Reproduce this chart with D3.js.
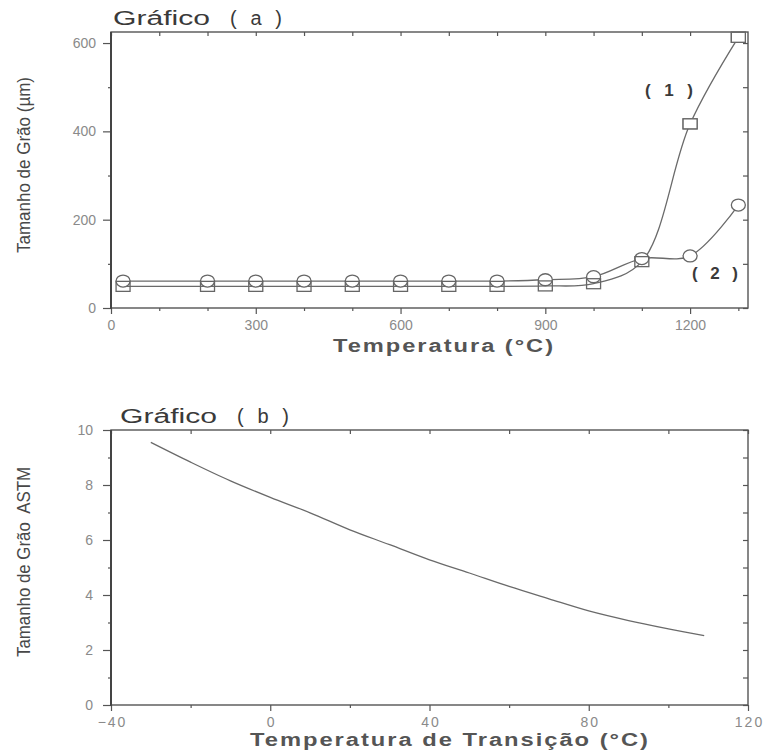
<!DOCTYPE html>
<html><head><meta charset="utf-8">
<script src="https://cdn.jsdelivr.net/npm/d3@7"></script>
<style>
body{margin:0;background:#fff}
text{font-family:"Liberation Sans",Arial,sans-serif}
</style>
</head><body><svg id="chart" width="764" height="752"></svg>
<script>
// Gráfico (a): tamanho de grão vs. temperatura
const tempA = [25, 200, 300, 400, 500, 600, 700, 800, 900, 1000, 1100, 1200, 1300];
const serie1 = [49, 49, 49, 49, 49, 49, 49, 49, 50, 55, 105, 417, 613];
const serie2 = [61, 61, 61, 61, 61, 61, 61, 61, 64, 71, 112, 118, 233];
const xTicksA = [0, 300, 600, 900, 1200];
const xMinorA = [100, 200, 400, 500, 700, 800, 1000, 1100, 1300];
const yTicksA = [0, 200, 400, 600];
const yMinorA = [100, 300, 500];

// Gráfico (b): tamanho de grão ASTM vs. temperatura de transição
const tempB = [-30, -20, -10, 0, 10, 20, 30, 40, 50, 60, 70, 80, 90, 100, 109];
const astm = [9.55, 8.83, 8.15, 7.55, 6.99, 6.37, 5.83, 5.28, 4.80, 4.31, 3.86, 3.42, 3.07, 2.77, 2.52];
const xTicksB = [-40, 0, 40, 80, 120];
const xMinorB = [-20, 20, 60, 100];
const yTicksB = [0, 2, 4, 6, 8, 10];
const yMinorB = [1, 3, 5, 7, 9];

const svg = d3.select("#chart");
const frameColor = "#555";
const tickText = "#8a8a8a";
const inkColor = "#3a3a3a";

function frame(x, y, o) {
  const g = svg.append("g");
  const [x0, x1] = x.range(), [y0, y1] = y.range();
  // minor ticks (all four sides)
  g.append("g").attr("transform", `translate(0,${y0})`)
    .call(d3.axisBottom(x).tickValues(o.xMinor).tickSize(3).tickFormat(""));
  g.append("g").attr("transform", `translate(${x0},0)`)
    .call(d3.axisLeft(y).tickValues(o.yMinor).tickSize(3).tickFormat(""));
  g.append("g").attr("transform", `translate(0,${y1})`)
    .call(d3.axisBottom(x).tickValues(o.xMinor.concat(o.xMajor)).tickSize(4).tickFormat(""));
  g.append("g").attr("transform", `translate(${x1},0)`)
    .call(d3.axisLeft(y).tickValues(o.yMinor.concat(o.yMajor)).tickSize(5).tickFormat(""));
  // major ticks with labels
  const xb = g.append("g").attr("transform", `translate(0,${y0})`)
    .call(d3.axisBottom(x).tickValues(o.xMajor).tickSize(6).tickPadding(6).tickFormat(d3.format("d")));
  xb.selectAll("text").attr("font-size", 14).attr("fill", tickText)
    .attr("letter-spacing", o.xLetter || 0).attr("dx", o.xDx || 0);
  const yl = g.append("g").attr("transform", `translate(${x0},0)`)
    .call(d3.axisLeft(y).tickValues(o.yMajor).tickSize(8).tickPadding(o.yPad).tickFormat(d3.format("d")));
  yl.selectAll("text").attr("font-size", 14).attr("fill", tickText);
  g.selectAll(".domain").remove();
  g.selectAll(".tick line").attr("stroke", frameColor).attr("stroke-width", 1.2);
  // box
  g.append("rect").attr("x", x0).attr("y", y1).attr("width", x1 - x0).attr("height", y0 - y1)
    .attr("fill", "none").attr("stroke", frameColor).attr("stroke-width", 1.4);
  g.append("line").attr("x1", x0).attr("x2", x0).attr("y1", y1).attr("y2", y0 + 1)
    .attr("stroke", "#444").attr("stroke-width", 2);
  // title: word and panel letter
  svg.append("text").attr("x", o.title[0]).attr("y", o.title[1]).attr("font-size", 20)
    .attr("fill", inkColor).attr("textLength", 97).attr("lengthAdjust", "spacingAndGlyphs")
    .text("Gráfico");
  svg.append("text").attr("x", o.title[0] + 117).attr("y", o.title[1]).attr("font-size", 20)
    .attr("fill", inkColor).attr("textLength", 52).attr("lengthAdjust", "spacing")
    .attr("xml:space", "preserve").text(o.title[2]);
  // x label
  svg.append("text").attr("x", o.xLab[0]).attr("y", o.xLab[1]).attr("text-anchor", "middle")
    .attr("font-size", 18).attr("font-weight", "bold").attr("fill", "#555")
    .attr("letter-spacing", 1.5)
    .attr("textLength", o.xLab[3]).attr("lengthAdjust", "spacingAndGlyphs").text(o.xLab[2]);
  // y label (condensed)
  svg.append("text").attr("transform", `translate(${o.yLab[0]},${o.yLab[1]}) rotate(-90)`)
    .attr("text-anchor", "middle").attr("font-size", 18)
    .attr("font-family", "'Liberation Sans Narrow','Arial Narrow','DejaVu Sans Condensed',sans-serif")
    .attr("fill", "#484848").attr("textLength", o.yLab[3]).attr("lengthAdjust", "spacingAndGlyphs")
    .attr("xml:space", "preserve").text(o.yLab[2]);
}

// ---- Gráfico (a) ----
const xA = d3.scaleLinear([0, 1320], [111, 748]);
const yA = d3.scaleLinear([0, 625], [308, 32]);
frame(xA, yA, {
  xMajor: xTicksA, xMinor: xMinorA, yMajor: yTicksA, yMinor: yMinorA, yPad: 7,
  title: [113, 25, "( a )"],
  xLab: [444, 352, "Temperatura (°C)", 222],
  yLab: [30, 165, "Tamanho de Grão (µm)", 176]
});

const lineA = d3.line().x(d => xA(d[0])).y(d => yA(d[1])).curve(d3.curveCatmullRom.alpha(0.5));
const pts1 = tempA.map((t, i) => [t, serie1[i]]);
const pts2 = tempA.map((t, i) => [t, serie2[i]]);
svg.append("path").datum(pts1).attr("d", lineA).attr("fill", "none")
  .attr("stroke", "#6a6a6a").attr("stroke-width", 1.3);
svg.append("path").datum(pts2).attr("d", lineA).attr("fill", "none")
  .attr("stroke", "#6a6a6a").attr("stroke-width", 1.3);

svg.append("g").selectAll("ellipse").data(pts2).join("ellipse")
  .attr("cx", d => xA(d[0])).attr("cy", d => yA(d[1])).attr("rx", 7).attr("ry", 6)
  .attr("fill", "#fff").attr("stroke", "#666").attr("stroke-width", 1.3);
svg.append("g").selectAll("rect").data(pts1).join("rect")
  .attr("x", d => xA(d[0]) - 7).attr("y", d => yA(d[1]) - 5).attr("width", 14).attr("height", 10)
  .attr("fill", "none").attr("stroke", "#666").attr("stroke-width", 1.3);
svg.selectAll(null).data(pts1.slice(-2)).join("rect")
  .attr("x", d => xA(d[0]) - 7).attr("y", d => yA(d[1]) - 5).attr("width", 14).attr("height", 10)
  .attr("fill", "#fff").attr("stroke", "#666").attr("stroke-width", 1.3);

svg.append("text").attr("x", 645).attr("y", 96)
  .attr("font-size", 17).attr("font-weight", "bold").attr("fill", inkColor)
  .attr("textLength", 48).attr("lengthAdjust", "spacing")
  .attr("xml:space", "preserve").text("( 1 )");
svg.append("text").attr("x", 692).attr("y", 279)
  .attr("font-size", 17).attr("font-weight", "bold").attr("fill", inkColor)
  .attr("textLength", 46).attr("lengthAdjust", "spacing")
  .attr("xml:space", "preserve").text("( 2 )");

// ---- Gráfico (b) ----
const xB = d3.scaleLinear([-40, 120], [111, 748]);
const yB = d3.scaleLinear([0, 10], [705, 430]);
frame(xB, yB, {
  xMajor: xTicksB, xMinor: xMinorB, yMajor: yTicksB, yMinor: yMinorB, yPad: 10,
  xLetter: 2, xDx: 1,
  title: [120, 423, "( b )"],
  xLab: [450, 746, "Temperatura de Transição (°C)", 400],
  yLab: [30, 562, "Tamanho de Grão  ASTM", 190]
});

const lineB = d3.line().x(d => xB(d[0])).y(d => yB(d[1])).curve(d3.curveCatmullRom.alpha(0.5));
svg.append("path").datum(tempB.map((t, i) => [t, astm[i]])).attr("d", lineB)
  .attr("fill", "none").attr("stroke", "#6a6a6a").attr("stroke-width", 1.3);
</script>
</body></html>
